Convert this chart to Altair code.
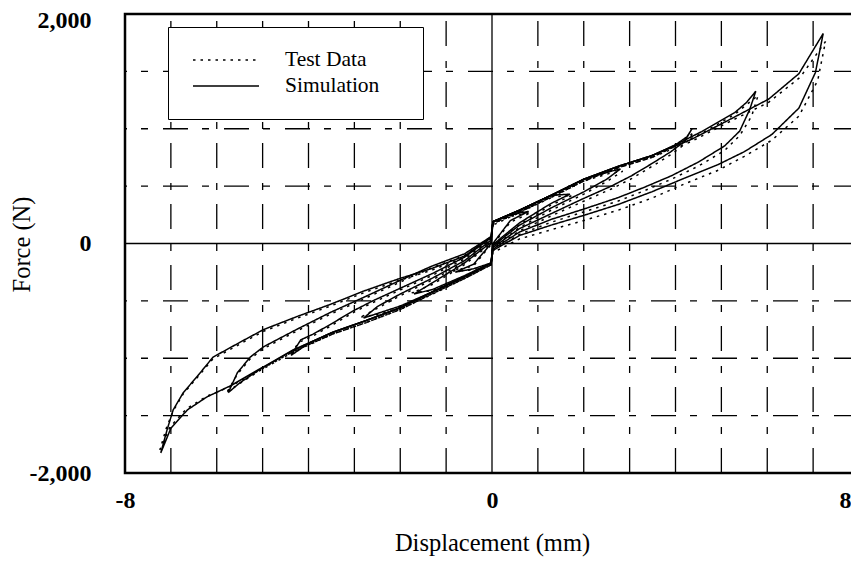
import altair as alt
import pandas as pd

# ---------------- data ----------------
x_label_values = [-8, 0, 8]
y_label_values = [-2000, 0, 2000]
grid_x = [-7, -6, -5, -4, -3, -2, -1, 1, 2, 3, 4, 5, 6, 7]
grid_y = [-1500, -1000, -500, 500, 1000, 1500]
zero_line = [0]

# Simulation loops: -tip -> loading branch -> +tip -> unloading branch -> -tip
sim_a7_x = [-7.22, -7.0, -6.64, -6.21, -5.7, -5.07, -4.35, -3.48, -2.75, -2.0, -1.29, -0.6, -0.02, 0.02, 0.6, 1.29, 2.0, 2.75, 3.48, 4.2, 4.94, 5.5, 6.1, 6.69, 7.05, 7.22,
            6.69, 6.03, 5.07, 4.35, 3.48, 2.75, 2.0, 1.29, 0.6, 0.02, -0.02, -0.6, -1.33, -2.05, -2.8, -3.52, -4.24, -4.98, -5.49, -6.08, -6.43, -6.73, -6.95, -7.08, -7.22]
sim_a7_y = [-1825, -1610, -1450, -1336, -1240, -1095, -930, -775, -672, -560, -420, -290, -170, -60, 70, 160, 245, 340, 450, 570, 690, 800, 950, 1180, 1490, 1830,
            1480, 1258, 1057, 908, 765, 672, 560, 420, 290, 190, 60, -110, -220, -310, -415, -530, -635, -750, -860, -990, -1160, -1300, -1450, -1620, -1825]

sim_a6_x = [-5.75, -5.5, -5.07, -4.35, -3.48, -2.75, -2.0, -1.29, -0.6, -0.02, 0.02, 0.6, 1.29, 2.0, 2.75, 3.32, 3.91, 4.5, 5.07, 5.4, 5.62, 5.75,
            5.55, 5.29, 4.57, 3.9, 3.48, 2.75, 2.0, 1.29, 0.6, 0.02, -0.02, -0.6, -1.33, -2.05, -2.8, -3.52, -4.24, -4.98, -5.27, -5.55, -5.75]
sim_a6_y = [-1300, -1215, -1100, -935, -775, -672, -560, -420, -290, -170, -50, 100, 210, 300, 400, 490, 590, 710, 850, 980, 1170, 1327,
            1230, 1140, 975, 840, 765, 672, 560, 420, 290, 190, 60, -90, -200, -330, -470, -600, -745, -900, -990, -1126, -1300]

sim_a4_x = [-4.38, -4.0, -3.48, -2.75, -2.0, -1.29, -0.6, -0.02, 0.02, 0.6, 1.29, 1.95, 2.6, 3.04, 3.5, 3.9, 4.2, 4.36,
            4.25, 4.0, 3.48, 2.75, 2.0, 1.29, 0.6, 0.02, -0.02, -0.6, -1.29, -2.0, -2.6, -3.04, -3.5, -3.9, -4.17, -4.38]
sim_a4_y = [-975, -870, -775, -672, -560, -420, -290, -170, -35, 130, 260, 384, 500, 590, 700, 800, 890, 1000,
            930, 860, 765, 672, 560, 420, 290, 190, 50, -120, -260, -390, -500, -590, -700, -790, -840, -975]

sim_a3_x = [-2.8, -2.5, -2.0, -1.29, -0.6, -0.02, 0.02, 0.6, 1.29, 2.0, 2.5, 2.8,
            2.6, 2.0, 1.29, 0.6, 0.02, -0.02, -0.6, -1.29, -2.0, -2.5, -2.8]
sim_a3_y = [-650, -610, -545, -420, -290, -170, -20, 160, 310, 450, 560, 650,
            630, 560, 420, 290, 190, 30, -150, -300, -440, -550, -650]

sim_a2_x = [-1.7, -1.29, -0.6, -0.02, 0.02, 0.6, 1.29, 1.7,
            1.29, 0.6, 0.02, -0.02, -0.6, -1.29, -1.7]
sim_a2_y = [-440, -400, -280, -170, -10, 180, 350, 430,
            420, 290, 190, 10, -170, -340, -440]

sim_a1_x = [-0.8, -0.4, -0.02, 0.02, 0.4, 0.8, 0.4, 0.02, -0.02, -0.4, -0.8]
sim_a1_y = [-250, -220, -170, 0, 200, 280, 250, 190, 0, -180, -250]

# Test data loops
test_a7_x = [-7.24, -7.02, -6.66, -6.21, -5.7, -5.07, -4.35, -3.48, -2.75, -2.0, -1.29, -0.6, -0.02, 0.02, 0.6, 1.29, 2.0, 2.75, 3.48, 4.2, 4.94, 5.5, 6.1, 6.69, 7.1, 7.27,
             6.72, 6.03, 5.07, 4.35, 3.48, 2.75, 2.0, 1.29, 0.6, 0.02, -0.02, -0.6, -1.33, -2.05, -2.8, -3.52, -4.24, -4.98, -5.49, -6.08, -6.43, -6.73, -6.95, -7.1, -7.24]
test_a7_y = [-1800, -1600, -1440, -1330, -1245, -1105, -945, -790, -690, -575, -440, -305, -185, -80, 40, 120, 200, 290, 395, 520, 640, 760, 900, 1110, 1420, 1760,
             1450, 1230, 1040, 890, 750, 660, 545, 400, 270, 160, 40, -120, -235, -325, -430, -545, -650, -765, -875, -1005, -1170, -1310, -1460, -1610, -1800]

test_a6_x = [-5.77, -5.5, -5.07, -4.35, -3.48, -2.75, -2.0, -1.29, -0.6, -0.02, 0.02, 0.6, 1.29, 2.0, 2.75, 3.32, 3.91, 4.5, 5.07, 5.4, 5.66, 5.8,
             5.55, 5.29, 4.57, 3.9, 3.48, 2.75, 2.0, 1.29, 0.6, 0.02, -0.02, -0.6, -1.33, -2.05, -2.8, -3.52, -4.24, -4.98, -5.27, -5.55, -5.77]
test_a6_y = [-1290, -1220, -1110, -950, -790, -690, -575, -435, -305, -185, -60, 80, 185, 275, 370, 460, 560, 675, 810, 940, 1110, 1290,
             1210, 1125, 960, 830, 750, 660, 545, 405, 275, 175, 45, -105, -215, -345, -485, -615, -760, -915, -1005, -1140, -1290]

test_a4_x = [-4.4, -4.0, -3.48, -2.75, -2.0, -1.29, -0.6, -0.02, 0.02, 0.6, 1.29, 1.95, 2.6, 3.04, 3.5, 3.9, 4.2, 4.4,
             4.25, 4.0, 3.48, 2.75, 2.0, 1.29, 0.6, 0.02, -0.02, -0.6, -1.29, -2.0, -2.6, -3.04, -3.5, -3.9, -4.2, -4.4]
test_a4_y = [-960, -880, -790, -690, -575, -435, -305, -185, -45, 110, 240, 360, 475, 565, 675, 775, 865, 970,
             915, 850, 750, 660, 545, 405, 275, 175, 35, -135, -275, -405, -515, -605, -715, -805, -860, -960]

test_a3_x = [-2.85, -2.5, -2.0, -1.29, -0.6, -0.02, 0.02, 0.6, 1.29, 2.0, 2.5, 2.85,
             2.6, 2.0, 1.29, 0.6, 0.02, -0.02, -0.6, -1.29, -2.0, -2.5, -2.85]
test_a3_y = [-640, -620, -560, -435, -305, -185, -30, 140, 290, 430, 540, 630,
             615, 545, 405, 275, 175, 20, -165, -315, -455, -565, -640]

test_a2_x = [-1.75, -1.29, -0.6, -0.02, 0.02, 0.6, 1.29, 1.75,
             1.29, 0.6, 0.02, -0.02, -0.6, -1.29, -1.75]
test_a2_y = [-430, -410, -295, -185, -20, 165, 335, 420,
             405, 275, 175, 0, -185, -355, -430]

test_a1_x = [-0.85, -0.4, -0.02, 0.02, 0.4, 0.85, 0.4, 0.02, -0.02, -0.4, -0.85]
test_a1_y = [-240, -230, -185, -10, 185, 270, 235, 175, -10, -195, -240]

series_names = ["Test Data", "Simulation"]

# ---------------- build table ----------------
loops = {
    "Simulation": [(sim_a7_x, sim_a7_y), (sim_a6_x, sim_a6_y), (sim_a4_x, sim_a4_y),
                   (sim_a3_x, sim_a3_y), (sim_a2_x, sim_a2_y), (sim_a1_x, sim_a1_y)],
    "Test Data": [(test_a7_x, test_a7_y), (test_a6_x, test_a6_y), (test_a4_x, test_a4_y),
                  (test_a3_x, test_a3_y), (test_a2_x, test_a2_y), (test_a1_x, test_a1_y)],
}
rows = []
for s, lst in loops.items():
    for li, (xs, ys) in enumerate(lst):
        for i, (xv, yv) in enumerate(zip(xs, ys)):
            rows.append({"series": s, "loop": f"{s}-{li}", "idx": i, "disp": xv, "force": yv})
df = pd.DataFrame(rows)

FONT = "Liberation Serif"
PAD_TAIL = "\u00a0" * 4 + "\u200b"   # keeps the legend box as wide as the original
xscale = alt.Scale(domain=[-8, 8], nice=False, zero=False)
yscale = alt.Scale(domain=[-2000, 2000], nice=False, zero=False)

xaxis = alt.Axis(values=x_label_values, title="Displacement (mm)", grid=False, ticks=False,
                 domain=False, labelFont=FONT, labelFontSize=24, labelFontWeight="bold",
                 labelColor="black", labelPadding=15, labelFlush=False,
                 labelAlign={"condition": {"test": "datum.value == 8", "value": "right"}, "value": "center"},
                 labelOffset={"condition": {"test": "datum.value == 8", "value": -8}, "value": 0},
                 labelExpr="replace(format(datum.value, 'd'), '\u2212', '-')",
                 titleFont=FONT, titleFontSize=24.5, titleFontWeight="normal",
                 titleColor="black", titlePadding=19)
yaxis = alt.Axis(values=y_label_values, title="Force (N)", grid=False, ticks=False,
                 domain=False, labelFont=FONT, labelFontSize=24, labelFontWeight="bold",
                 labelColor="black", labelPadding=34, labelFlush=False,
                 labelOffset={"condition": {"test": "datum.value == 2000", "value": 6}, "value": 0},
                 labelExpr="replace(format(datum.value, ','), '\u2212', '-')",
                 titleFont=FONT, titleFontSize=24.5, titleFontWeight="normal",
                 titleColor="black", titleX=-103, titleY=230,
                 titleAlign="center", titleBaseline="middle", titleAngle=270)

DASH = [25, 15, 7, 14]

vgrid = alt.Chart(pd.DataFrame({"disp": grid_x})).mark_rule(
    color="black", strokeWidth=1.3, strokeDash=DASH, strokeDashOffset=54
).encode(x=alt.X("disp:Q", scale=xscale, axis=xaxis))

hgrid = alt.Chart(pd.DataFrame({"force": grid_y})).mark_rule(
    color="black", strokeWidth=1.3, strokeDash=DASH
).encode(y=alt.Y("force:Q", scale=yscale, axis=yaxis))

vzero = alt.Chart(pd.DataFrame({"disp": zero_line})).mark_rule(
    color="black", strokeWidth=1.3
).encode(x=alt.X("disp:Q", scale=xscale, axis=xaxis))

hzero = alt.Chart(pd.DataFrame({"force": zero_line})).mark_rule(
    color="black", strokeWidth=1.3
).encode(y=alt.Y("force:Q", scale=yscale, axis=yaxis))

lines = alt.Chart(df).mark_line(color="black", strokeWidth=1.5).encode(
    x=alt.X("disp:Q", scale=xscale, axis=xaxis),
    y=alt.Y("force:Q", scale=yscale, axis=yaxis),
    strokeDash=alt.StrokeDash(
        "series:N",
        scale=alt.Scale(domain=series_names, range=[[2.5, 5], [1, 0]]),
        legend=alt.Legend(title=None, orient="none", legendX=43, legendY=13,
                          symbolType="stroke", symbolSize=4356, symbolStrokeWidth=1.6,
                          symbolStrokeColor="black", symbolOffset=2, clipHeight=22,
                          labelFont=FONT, labelFontSize=21.5,
                          labelExpr="datum.label + '" + PAD_TAIL + "'",
                          labelColor="black", labelOffset=25, rowPadding=4, padding=22,
                          fillColor="white", strokeColor="black")),
    detail="loop:N",
    order="idx:Q",
)

chart = alt.layer(vgrid, hgrid, vzero, hzero, lines).properties(
    width=734, height=459,
    background="white",
    autosize=alt.AutoSizeParams(type="none"),
    padding={"left": 117, "top": 6, "right": -8, "bottom": 90},
).configure_view(stroke="black", strokeWidth=2.5)

chart.save("out.html", embed_options={"renderer": "svg", "actions": False})
